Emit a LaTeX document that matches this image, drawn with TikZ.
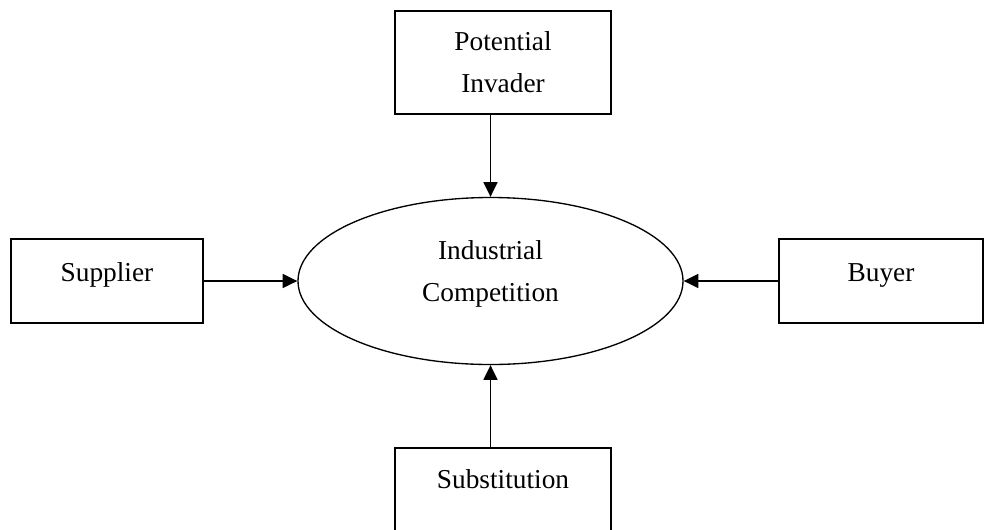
\documentclass[tikz,border=0pt]{standalone}
\usepackage{fontspec}
\setmainfont{Liberation Serif}
\usetikzlibrary{shapes.geometric,arrows.meta}
\newcommand{\boxfont}{\fontsize{20.5}{31.5}\selectfont}
\tikzset{
    box/.style={draw, line width=1.2pt, inner sep=0pt, align=center, font=\boxfont},
    arr/.style={line width=1pt, -{Triangle[length=11pt,width=10.5pt]}}
}
\begin{document}
\begin{tikzpicture}[x=0.75pt, y=-0.75pt]
    \useasboundingbox (0,0) rectangle (984,529);
    \node[box, minimum width=162pt, minimum height=77.25pt] (inv) at (503,62.5) {Potential\\Invader};
    \node[box, anchor=base, minimum width=144pt, text height=31.5pt, text depth=31.5pt] (sup) at (107,281) {Supplier};
    \node[box, anchor=base, minimum width=153pt, text height=31.5pt, text depth=31.5pt] (buy) at (881,281) {Buyer};
    \node[box, anchor=base, minimum width=162pt, text height=30pt, text depth=45pt] (subst) at (503,488) {Substitution};
    \node[ellipse, draw, line width=1pt, inner sep=0pt, minimum width=288.75pt, minimum height=125.25pt,
          label={[font=\boxfont, align=center, yshift=5pt]center:Industrial\\Competition}] (comp) at (490.5,281) {};
    \draw[arr] (inv.south -| comp.north) -- (comp.north);
    \draw[arr] (sup) -- (comp);
    \draw[arr] (buy) -- (comp);
    \draw[arr] (subst.north -| comp.south) -- (comp.south);
\end{tikzpicture}
\end{document}
